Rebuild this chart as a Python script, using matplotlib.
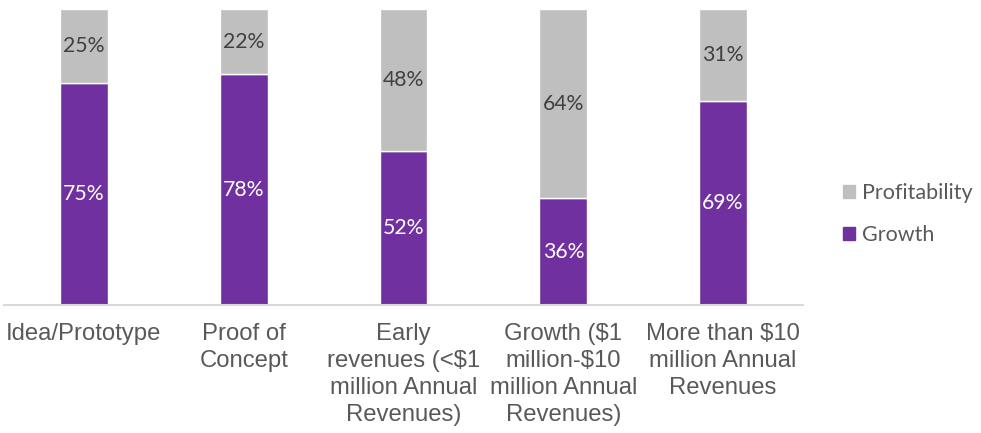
import numpy as np
import matplotlib.pyplot as plt
from matplotlib.patches import Patch

categories = ['Idea/Prototype', 'Proof of\nConcept', 'Early\nrevenues (<$1\nmillion Annual\nRevenues)',
              'Growth ($1\nmillion-$10\nmillion Annual\nRevenues)', 'More than $10\nmillion Annual\nRevenues']
growth = [75, 78, 52, 36, 69]
profitability = [25, 22, 48, 64, 31]

purple = '#7030A0'
grey = '#BFBFBF'

fig = plt.figure(figsize=(9.81, 4.33), dpi=100)
ax = fig.add_axes([4/981, (433-305)/433, 799/981, 296/433])

x = np.arange(len(categories))
w = 0.3
ax.bar(x, growth, w, color=purple, edgecolor='white', linewidth=1)
ax.bar(x, profitability, w, bottom=growth, color=grey, edgecolor='white', linewidth=1)

for i in range(len(x)):
    ax.text(x[i], growth[i] / 2, f'{growth[i]}%', ha='center', va='center',
            color='white', fontsize=15.3, family='Lato')
    ax.text(x[i], growth[i] + profitability[i] / 2, f'{profitability[i]}%', ha='center', va='center',
            color='#404040', fontsize=15.3, family='Lato')

ax.set_xlim(-0.5, 4.5)
ax.set_ylim(0, 100)
ax.set_yticks([])
ax.set_xticks(x)
ax.set_xticklabels(categories, fontsize=17.2, color='#595959', family='Liberation Sans', linespacing=1.3)
ax.tick_params(axis='x', length=0, pad=13)
for s in ['top', 'right', 'left']:
    ax.spines[s].set_visible(False)
ax.spines['bottom'].set_color('#D9D9D9')
ax.spines['bottom'].set_linewidth(1.5)

handles = [Patch(color=grey), Patch(color=purple)]
leg = fig.legend(handles, ['Profitability', 'Growth'], loc='center left',
                 bbox_to_anchor=(824/981, 1 - 214/433), frameon=False,
                 handlelength=0.55, handleheight=0.55, handletextpad=0.3,
                 labelspacing=1.05, prop={'family': 'Lato', 'size': 15.5})
for t in leg.get_texts():
    t.set_color('#595959')

fig.savefig('out.png', dpi=100)
